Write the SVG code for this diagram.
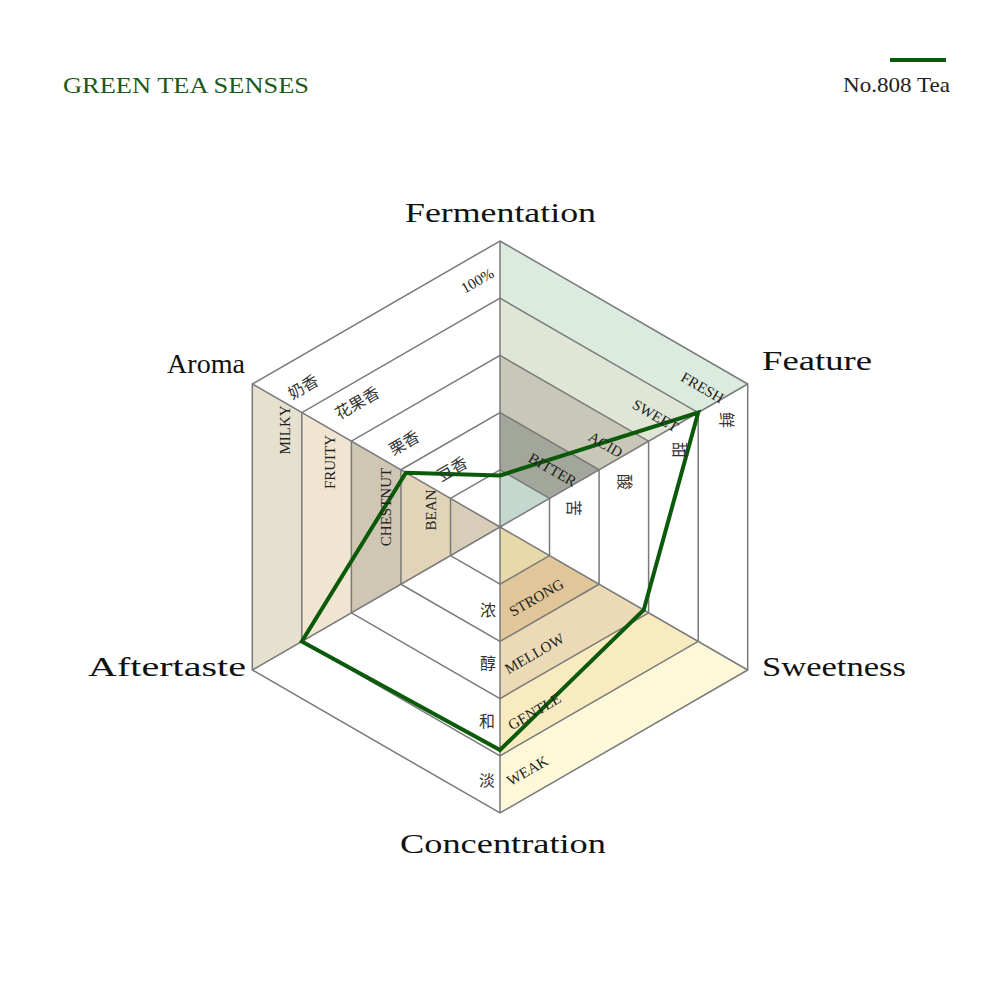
<svg xmlns="http://www.w3.org/2000/svg" width="1000" height="1000" viewBox="0 0 1000 1000">
<style>
.grid{fill:none;stroke:#7a7a7a;stroke-width:1.5}
.ax{font-family:"Liberation Serif","Noto Sans CJK SC",serif;font-size:27px;fill:#111}
.lab{font-family:"Liberation Serif","Noto Sans CJK SC",serif;font-size:15px;fill:#222}
.cjk{font-family:"Noto Sans CJK SC",serif;font-size:16px;fill:#333}
</style>
<rect width="1000" height="1000" fill="#fff"/>
<g id="title"><text x="63" y="93" font-family="Liberation Serif,serif" font-size="23" fill="#1a5a1a" textLength="246" lengthAdjust="spacingAndGlyphs">GREEN TEA SENSES</text></g>
<g id="legend"><line x1="890" y1="60" x2="946" y2="60" stroke="#0a5a0a" stroke-width="4"/><text x="843" y="92" font-family="Liberation Serif,serif" font-size="21" fill="#222" textLength="107" lengthAdjust="spacingAndGlyphs">No.808 Tea</text></g>
<g id="fills" stroke="none">
<polygon points="500,241 747.7,384 698.2,412.6 500,298.2" fill="#dcebdf"/>
<polygon points="500,298.2 698.2,412.6 648.6,441.2 500,355.4" fill="#dfe6d6"/>
<polygon points="500,355.4 648.6,441.2 599.1,469.8 500,412.6" fill="#c9c8b8"/>
<polygon points="500,412.6 599.1,469.8 549.5,498.4 500,469.8" fill="#a3a69b"/>
<polygon points="500,469.8 549.5,498.4 500,527" fill="#c4d8d0"/>
<polygon points="747.7,670 500,813 500,755.8 698.2,641.4" fill="#fdf9d8"/>
<polygon points="698.2,641.4 500,755.8 500,698.6 648.6,612.8" fill="#f9ebc0"/>
<polygon points="648.6,612.8 500,698.6 500,641.4 599.1,584.2" fill="#ecdab6"/>
<polygon points="599.1,584.2 500,641.4 500,584.2 549.5,555.6" fill="#e0c698"/>
<polygon points="549.5,555.6 500,584.2 500,527" fill="#e8daa8"/>
<polygon points="252.3,384 252.3,670 301.8,641.4 301.8,412.6" fill="#e6e0cf"/>
<polygon points="301.8,412.6 301.8,641.4 351.4,612.8 351.4,441.2" fill="#efe5d0"/>
<polygon points="351.4,441.2 351.4,612.8 400.9,584.2 400.9,469.8" fill="#cfc6b4"/>
<polygon points="400.9,469.8 400.9,584.2 450.5,555.6 450.5,498.4" fill="#e1d4b8"/>
<polygon points="450.5,498.4 450.5,555.6 500,527" fill="#d8cdb8"/>
</g>
<g id="grid" class="grid">
<polygon points="500,241 747.7,384 747.7,670 500,813 252.3,670 252.3,384"/>
<polygon points="500,298.2 698.2,412.6 698.2,641.4 500,755.8 301.8,641.4 301.8,412.6"/>
<polygon points="500,355.4 648.6,441.2 648.6,612.8 500,698.6 351.4,612.8 351.4,441.2"/>
<polygon points="500,412.6 599.1,469.8 599.1,584.2 500,641.4 400.9,584.2 400.9,469.8"/>
<polygon points="500,469.8 549.5,498.4 549.5,555.6 500,584.2 450.5,555.6 450.5,498.4"/>
<path d="M500,527V241M500,527L747.7,384M500,527L747.7,670M500,527V813M500,527L252.3,670M500,527L252.3,384"/>
</g>
<g id="connectors">
<polygon points="500,475.5 698.2,412.6 643.7,610 500,750 301.8,641.4 405.9,472.7" fill="none" stroke="#0a5a0a" stroke-width="4" stroke-linejoin="miter"/>
</g>
<g id="axis-labels" class="ax">
<text x="405" y="222" textLength="191" lengthAdjust="spacingAndGlyphs">Fermentation</text>
<text x="762" y="370" textLength="110" lengthAdjust="spacingAndGlyphs">Feature</text>
<text x="167" y="373" textLength="78" lengthAdjust="spacingAndGlyphs">Aroma</text>
<text x="88" y="676" textLength="158" lengthAdjust="spacingAndGlyphs">Aftertaste</text>
<text x="762" y="676" textLength="144" lengthAdjust="spacingAndGlyphs">Sweetness</text>
<text x="400" y="853" textLength="206" lengthAdjust="spacingAndGlyphs">Concentration</text>
</g>
<g id="labels">
<text class="lab" transform="translate(480,285) rotate(-30)" text-anchor="middle">100%</text>
<text class="cjk" transform="translate(306,392) rotate(-30)" text-anchor="middle">奶香</text>
<text class="cjk" transform="translate(360,408) rotate(-30)" text-anchor="middle">花果香</text>
<text class="cjk" transform="translate(407,448) rotate(-30)" text-anchor="middle">栗香</text>
<text class="cjk" transform="translate(455,474) rotate(-30)" text-anchor="middle">豆香</text>
<text class="lab" transform="translate(290,430) rotate(-90)" text-anchor="middle">MILKY</text>
<text class="lab" transform="translate(335,462) rotate(-90)" text-anchor="middle">FRUITY</text>
<text class="lab" transform="translate(391,507) rotate(-90)" text-anchor="middle">CHESTNUT</text>
<text class="lab" transform="translate(436,510) rotate(-90)" text-anchor="middle">BEAN</text>
<text class="lab" font-size="13" transform="translate(700,392) rotate(30)" text-anchor="middle">FRESH</text>
<text class="lab" font-size="13" transform="translate(653,420) rotate(30)" text-anchor="middle">SWEET</text>
<text class="lab" font-size="13" transform="translate(603,449) rotate(30)" text-anchor="middle">ACID</text>
<text class="lab" font-size="13" transform="translate(550,474) rotate(30)" text-anchor="middle">BITTER</text>
<text class="cjk" transform="translate(721,420) rotate(90)" text-anchor="middle">鲜</text>
<text class="cjk" transform="translate(674,450) rotate(90)" text-anchor="middle">甜</text>
<text class="cjk" transform="translate(619,482) rotate(90)" text-anchor="middle">酸</text>
<text class="cjk" transform="translate(568,508) rotate(90)" text-anchor="middle">苦</text>
<text class="lab" transform="translate(539,602) rotate(-30)" text-anchor="middle">STRONG</text>
<text class="lab" transform="translate(537,658) rotate(-30)" text-anchor="middle">MELLOW</text>
<text class="lab" transform="translate(537,716) rotate(-30)" text-anchor="middle">GENTLE</text>
<text class="lab" transform="translate(530,775) rotate(-30)" text-anchor="middle">WEAK</text>
<text class="cjk" x="488" y="616" text-anchor="middle">浓</text>
<text class="cjk" x="488" y="669" text-anchor="middle">醇</text>
<text class="cjk" x="487" y="727" text-anchor="middle">和</text>
<text class="cjk" x="487" y="786" text-anchor="middle">淡</text>
</g>
</svg>
